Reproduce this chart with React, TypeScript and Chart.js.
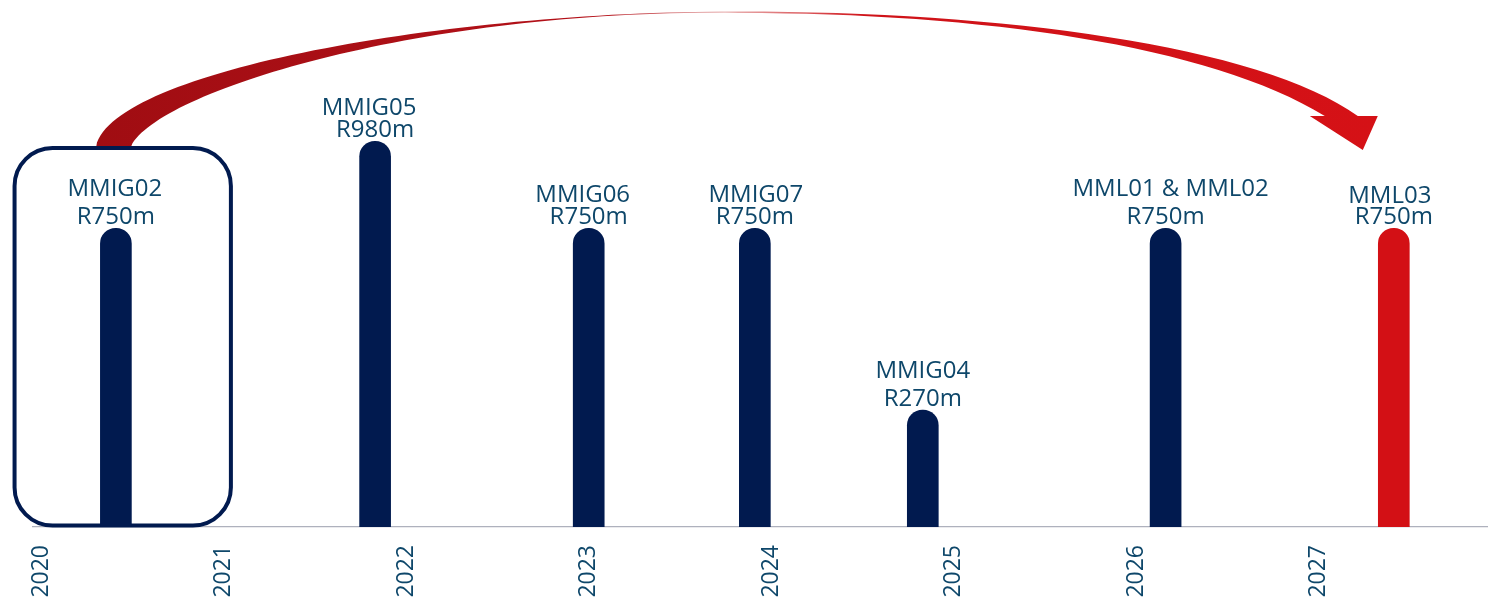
import React, { useEffect, useRef } from 'react';
import { Chart, registerables } from 'chart.js';

Chart.register(...registerables);

// ---------- data ----------
const BAR_NAMES = ['MMIG02', 'MMIG05', 'MMIG06', 'MMIG07', 'MMIG04', 'MML01 & MML02', 'MML03'];
const BAR_AMOUNT_LABELS = ['R750m', 'R980m', 'R750m', 'R750m', 'R270m', 'R750m', 'R750m'];
const BAR_DATES = [2020.41, 2021.83, 2023.0, 2023.91, 2024.83, 2026.16, 2027.41];
const BAR_VALUES = [750, 980, 750, 750, 270, 750, 750];
const YEAR_TICKS = [2020, 2021, 2022, 2023, 2024, 2025, 2026, 2027];
const HIGHLIGHT_INDEX = 6;

// ---------- styles ----------
const NAVY = '#011a4f';
const RED = '#d31015';
const TEXT = '#0e476a';
const FONT = '"Open Sans", "DejaVu Sans", sans-serif';
const LABEL_LINE_GAP = [28, 22.5, 22.5, 22, 28.5, 28, 21];
const LABEL_NAME_DX = [-1, -6, -6, 1, 0, 5, -4];
const X_MIN = 2019.956;
const X_MAX = 2027.926;
const Y_MIN = -39;
const Y_MAX = 1353;
const BOX_RANGE = [2019.855, 2021.04];
const BOX_TOP_VALUE = 962;

const boxPlugin = {
  id: 'highlightBox',
  beforeDatasetsDraw(chart: any) {
    const { ctx, scales, chartArea } = chart;
    const x0 = scales.x.getPixelForValue(BOX_RANGE[0]);
    const x1 = scales.x.getPixelForValue(BOX_RANGE[1]);
    const y0 = scales.y.getPixelForValue(BOX_TOP_VALUE);
    const y1 = chartArea.bottom - 1.5;
    ctx.save();
    ctx.beginPath();
    ctx.roundRect(x0, y0, x1 - x0, y1 - y0, 38);
    ctx.lineWidth = 4;
    ctx.strokeStyle = NAVY;
    ctx.stroke();
    ctx.restore();
  },
};

const labelPlugin = {
  id: 'barLabels',
  afterDatasetsDraw(chart: any) {
    const { ctx } = chart;
    const meta = chart.getDatasetMeta(0);
    ctx.save();
    ctx.fillStyle = TEXT;
    ctx.font = `24px ${FONT}`;
    ctx.textAlign = 'center';
    ctx.textBaseline = 'alphabetic';
    meta.data.forEach((bar: any, i: number) => {
      const base = bar.y - 4;
      ctx.fillText(BAR_AMOUNT_LABELS[i], bar.x, base);
      ctx.fillText(BAR_NAMES[i], bar.x + LABEL_NAME_DX[i], base - LABEL_LINE_GAP[i]);
    });
    ctx.restore();
  },
};

const arrowPlugin = {
  id: 'curvedArrow',
  afterDatasetsDraw(chart: any) {
    const { ctx, scales } = chart;
    const meta = chart.getDatasetMeta(0);
    const first = meta.data[0];
    const last = meta.data[meta.data.length - 1];
    const sx = first.x;
    const ex = last.x;
    const top = scales.y.getPixelForValue(BOX_TOP_VALUE) - 2;
    ctx.save();
    ctx.beginPath();
    ctx.moveTo(sx - 19.5, top);
    ctx.bezierCurveTo(sx - 1.5, 70, sx + 333.5, 11, sx + 623.5, 11.5);
    ctx.bezierCurveTo(sx + 883.5, 11.5, ex - 134, 45, ex - 36, 116);
    ctx.lineTo(ex - 16, 116);
    ctx.lineTo(ex - 31, 150);
    ctx.lineTo(ex - 84, 116);
    ctx.lineTo(ex - 69, 116);
    ctx.bezierCurveTo(ex - 184, 45, sx + 863.5, 13, sx + 623.5, 13);
    ctx.bezierCurveTo(sx + 313.5, 8, sx + 43.5, 90, sx + 15.5, top);
    ctx.closePath();
    const g = ctx.createLinearGradient(sx - 19.5, 0, ex - 16, 0);
    g.addColorStop(0, '#a00d12');
    g.addColorStop(0.4, '#b41119');
    g.addColorStop(0.49, '#eab8b8');
    g.addColorStop(0.6, '#cf1319');
    g.addColorStop(1, '#d51116');
    ctx.fillStyle = g;
    ctx.fill();
    ctx.restore();
  },
};

export default function App() {
  const canvasRef = useRef<HTMLCanvasElement | null>(null);

  useEffect(() => {
    document.body.style.margin = '0';
    const canvas = canvasRef.current;
    if (!canvas) return;
    const chart = new Chart(canvas, {
      type: 'bar',
      data: {
        datasets: [
          {
            data: BAR_DATES.map((d, i) => ({ x: d, y: BAR_VALUES[i] })),
            backgroundColor: BAR_VALUES.map((_, i) => (i === HIGHLIGHT_INDEX ? RED : NAVY)),
            barThickness: 31,
            base: Y_MIN,
            borderRadius: { topLeft: 15.5, topRight: 15.5, bottomLeft: 0, bottomRight: 0 },
            borderSkipped: 'start',
          } as any,
        ],
      },
      plugins: [boxPlugin, labelPlugin, arrowPlugin],
      options: {
        responsive: false,
        devicePixelRatio: 1,
        animation: false,
        layout: { padding: { left: 33, right: 0, top: 0, bottom: 0 } },
        plugins: {
          legend: { display: false },
          tooltip: { enabled: false },
        },
        scales: {
          x: {
            type: 'linear',
            min: X_MIN,
            max: X_MAX,
            offset: false,
            grid: { display: false },
            border: { display: true, color: '#aeb1bd', width: 1.2 },
            afterBuildTicks: (scale: any) => {
              scale.ticks = YEAR_TICKS.map((v) => ({ value: v }));
            },
            afterFit: (scale: any) => {
              scale.height = 71;
            },
            ticks: {
              autoSkip: false,
              minRotation: 90,
              maxRotation: 90,
              padding: 10,
              color: TEXT,
              font: { family: FONT, size: 23 },
              callback: (v: any) => String(v),
            },
          },
          y: {
            display: false,
            min: Y_MIN,
            max: Y_MAX,
          },
        },
      } as any,
    });
    return () => chart.destroy();
  }, []);

  return (
    <div style={{ width: 1488, height: 598, background: '#fff' }}>
      <canvas ref={canvasRef} width={1488} height={598} style={{ display: 'block' }} />
    </div>
  );
}
